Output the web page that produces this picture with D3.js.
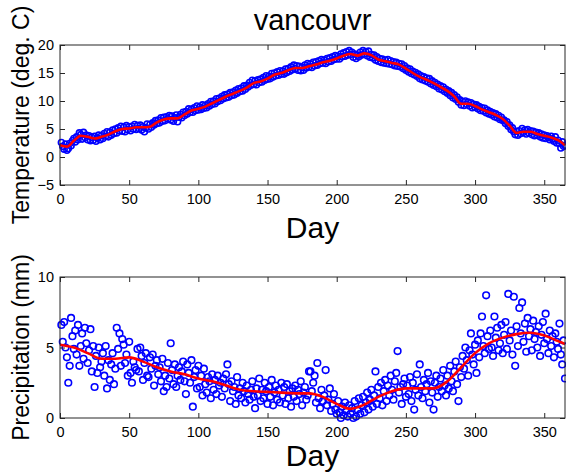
<!DOCTYPE html>
<html>
<head>
<meta charset="utf-8">
<script src="https://cdn.jsdelivr.net/npm/d3@7"></script>
<style>
  html, body { margin: 0; padding: 0; background: #fff; }
  svg { display: block; }
  text { font-family: "Liberation Sans", Arial, Helvetica, sans-serif; fill: #000; }
</style>
</head>
<body>
<svg id="fig" width="566" height="473"></svg>
<script>
// ---- Daily mean temperature (deg. C), days 1..365 ----
const tempDaily = [
  2.6, 1.9, 1.4, 2.3, 1.2, 1.5, 2.4, 2.0, 2.9, 3.3,
  2.7, 3.6, 3.1, 4.3, 4.0, 3.2, 4.4, 3.5, 3.9, 3.1,
  3.8, 2.9, 3.5, 3.0, 3.7, 2.8, 3.4, 3.9, 3.1, 3.8,
  3.3, 4.2, 3.7, 4.5, 3.6, 4.4, 3.9, 4.8, 4.2, 5.0,
  4.3, 5.2, 4.7, 5.5, 4.6, 5.3, 4.5, 5.6, 4.9, 5.4,
  4.7, 5.5, 5.0, 5.8, 4.9, 5.6, 5.1, 5.7, 4.8, 5.4,
  4.5, 5.2, 5.9, 5.0, 5.8, 5.3, 6.1, 5.7, 6.5, 6.0,
  6.6, 6.1, 7.0, 6.4, 7.1, 6.5, 7.2, 6.8, 7.4, 6.6,
  7.3, 6.4, 7.0, 7.5, 6.3, 7.1, 7.6, 7.0, 8.0, 7.4,
  8.1, 7.7, 8.6, 8.0, 8.5, 8.0, 8.8, 8.3, 9.1, 8.4,
  8.9, 8.5, 9.3, 8.7, 9.2, 8.8, 9.5, 9.1, 9.9, 9.4,
  10.0, 9.5, 10.4, 9.9, 10.5, 10.1, 10.8, 10.4, 11.1, 10.6,
  11.2, 10.7, 11.5, 11.0, 11.6, 11.1, 11.9, 11.4, 12.2, 11.7,
  12.3, 11.8, 12.7, 12.1, 12.8, 12.5, 13.3, 12.8, 13.7, 13.0,
  13.6, 12.9, 13.8, 13.3, 13.9, 13.4, 14.2, 13.7, 14.5, 13.9,
  14.4, 14.0, 14.9, 14.3, 15.0, 14.5, 15.2, 14.6, 15.4, 14.8,
  15.3, 14.8, 15.7, 15.1, 15.8, 15.3, 16.1, 15.6, 16.4, 15.8,
  16.3, 15.5, 16.2, 15.4, 16.0, 15.5, 16.4, 15.9, 16.7, 16.1,
  16.6, 16.0, 16.9, 16.3, 17.0, 16.4, 17.2, 16.7, 17.4, 16.8,
  17.3, 16.7, 17.6, 17.0, 17.7, 17.1, 17.9, 17.4, 18.1, 17.5,
  18.0, 17.5, 18.4, 17.9, 18.6, 18.0, 18.8, 18.2, 19.0, 18.3,
  18.7, 17.8, 18.4, 17.6, 18.2, 17.9, 18.7, 18.2, 19.0, 18.4,
  18.8, 18.1, 18.9, 17.8, 18.3, 17.7, 18.2, 17.3, 17.9, 17.1,
  17.6, 16.9, 17.5, 16.8, 17.3, 16.7, 17.4, 16.6, 17.2, 16.5,
  17.0, 16.3, 16.9, 16.2, 16.7, 16.1, 16.6, 15.8, 16.3, 15.5,
  15.9, 15.2, 15.7, 14.9, 15.3, 14.7, 15.1, 14.4, 14.8, 14.0,
  14.5, 13.8, 14.3, 13.6, 14.1, 13.4, 14.0, 13.1, 13.6, 12.8,
  13.3, 12.6, 13.0, 12.2, 12.7, 12.0, 12.5, 11.7, 12.1, 11.4,
  11.8, 11.0, 11.5, 10.6, 11.1, 10.3, 10.7, 9.8, 10.2, 9.3,
  9.9, 9.2, 10.0, 9.4, 9.8, 9.1, 9.7, 8.8, 9.4, 8.9,
  9.3, 8.6, 9.0, 8.3, 8.8, 8.2, 8.7, 7.9, 8.4, 7.7,
  8.1, 7.5, 7.9, 7.2, 7.7, 7.0, 7.4, 6.7, 7.1, 6.5,
  6.6, 6.0, 6.3, 5.5, 5.7, 4.9, 5.2, 4.5, 4.0, 4.6,
  3.9, 4.7, 4.2, 5.1, 4.4, 4.8, 4.1, 4.9, 4.3, 4.7,
  4.0, 4.6, 3.8, 4.4, 3.9, 4.3, 3.6, 4.1, 3.4, 3.9,
  3.3, 3.8, 3.5, 3.1, 3.7, 3.2, 2.8, 3.6, 2.5, 3.0,
  2.4, 1.6, 2.7, 1.9, 2.1
];

// ---- Smoothed temperature, sampled every 5 days (0..365) ----
const tempSmoothDays = d3.range(0, 366, 5);
const tempSmooth = [
  2.1, 1.85, 2.9, 3.8, 3.6, 3.3, 3.6, 4.0, 4.6, 5.0,
  5.1, 5.3, 5.3, 5.4, 6.2, 6.7, 6.9, 6.9, 7.6, 8.3,
  8.6, 9.0, 9.6, 10.2, 10.8, 11.3, 11.8, 12.4, 13.2, 13.5,
  14.0, 14.7, 15.0, 15.5, 15.9, 15.9, 16.2, 16.5, 16.9, 17.2,
  17.6, 18.1, 18.4, 18.1, 18.5, 18.2, 17.4, 17.1, 16.8, 16.5,
  15.8, 15.0, 14.3, 13.8, 13.2, 12.5, 11.8, 10.8, 9.5, 9.5,
  9.1, 8.5, 8.0, 7.5, 6.8, 5.6, 4.3, 4.5, 4.5, 4.1,
  3.8, 3.5, 3.0, 2.1
];

// ---- Daily precipitation (mm), days 1..365 ----
const precipDaily = [
  6.6, 5.4, 6.8, 5.0, 4.3, 2.5, 3.7, 7.1, 5.8, 4.9,
  6.2, 4.5, 6.6, 3.7, 5.1, 6.0, 4.2, 6.4, 5.3, 3.9,
  4.8, 6.3, 3.3, 5.1, 2.2, 4.4, 3.2, 5.0, 3.6, 4.0,
  4.6, 3.0, 5.1, 2.1, 4.1, 2.7, 3.8, 4.6, 2.4, 3.5,
  6.4, 4.9, 6.0, 3.7, 5.6, 5.2, 3.9, 4.5, 3.0, 5.4,
  3.2, 2.5, 4.0, 3.6, 3.4, 4.9, 3.3, 5.0, 4.4, 2.7,
  3.9, 4.6, 3.0, 2.9, 4.3, 3.5, 4.5, 2.3, 3.7, 4.1,
  3.1, 3.6, 2.6, 4.2, 1.9, 3.0, 2.2, 3.9, 2.8, 5.3,
  3.4, 2.4, 3.8, 2.2, 3.0, 3.6, 2.7, 3.3, 4.0, 2.6,
  1.7, 3.8, 3.2, 2.5, 4.1, 0.8, 2.9, 3.4, 2.1, 3.7,
  2.2, 3.0, 1.6, 3.5, 2.4, 1.8, 2.9, 2.6, 1.4, 3.1,
  2.0, 2.7, 1.7, 3.0, 2.3, 2.5, 1.5, 2.8, 2.1, 3.1,
  3.8, 2.4, 1.2, 2.6, 1.9, 2.2, 1.0, 2.9, 1.6, 2.1,
  1.4, 2.5, 1.9, 1.1, 2.3, 1.7, 1.3, 2.0, 2.6, 1.5,
  0.7, 2.1, 1.6, 2.8, 1.2, 2.0, 1.4, 2.5, 1.9, 1.0,
  2.2, 1.5, 2.7, 0.9, 1.8, 2.3, 1.3, 2.0, 1.1, 2.5,
  1.6, 2.2, 1.0, 2.4, 1.4, 1.9, 0.8, 2.1, 1.5, 2.3,
  1.2, 2.0, 1.7, 2.6, 0.9, 1.8, 2.2, 1.3, 1.6, 3.3,
  3.3, 1.9, 2.5, 3.0, 1.1, 3.9, 1.4, 0.7, 2.0, 1.2,
  1.6, 3.4, 0.9, 1.3, 2.1, 0.5, 1.0, 1.7, 0.6, 0.3,
  1.2, 0.4, 0.0, 0.8, 0.2, 1.1, 0.5, 0.1, 0.9, 0.3,
  0.7, 0.0, 1.2, 0.1, 0.6, 1.4, 0.3, 0.9, 1.5, 0.4,
  1.1, 1.8, 0.6, 1.3, 2.0, 0.8, 1.6, 3.3, 1.0, 2.2,
  1.4, 2.5, 0.9, 1.9, 2.7, 1.2, 2.3, 1.6, 3.0, 2.0,
  1.3, 2.6, 3.2, 4.75, 1.8, 2.2, 1.0, 2.4, 2.8, 1.5,
  2.3, 1.7, 2.9, 1.2, 2.5, 0.6, 2.0, 3.1, 1.6, 3.8,
  2.2, 1.4, 2.7, 1.9, 2.4, 3.2, 1.1, 2.6, 1.8, 0.6,
  2.5, 3.0, 1.5, 2.2, 2.8, 1.9, 3.4, 2.3, 1.6, 3.0,
  2.1, 3.7, 2.6, 1.9, 3.3, 4.0, 2.4, 1.2, 3.6, 2.9,
  4.4, 3.5, 5.0, 4.1, 3.0, 4.8, 6.0, 4.5, 3.8, 5.2,
  3.2, 5.5, 4.3, 6.0, 7.2, 5.1, 4.6, 8.7, 5.8, 4.9,
  6.2, 5.0, 4.4, 7.2, 5.7, 6.4, 4.8, 5.3, 6.6, 4.6,
  5.9, 6.8, 4.9, 8.8, 5.5, 6.2, 4.5, 8.6, 3.7, 6.5,
  5.1, 7.8, 6.0, 8.2, 5.4, 6.7, 4.7, 7.1, 5.8, 6.3,
  4.8, 6.9, 5.6, 6.1, 5.0, 6.5, 4.4, 5.9, 6.8, 5.3,
  7.4, 5.6, 4.6, 6.2, 5.1, 5.8, 4.3, 6.0, 5.4, 4.9,
  6.7, 4.5, 3.8, 5.5, 2.8
];

// ---- Smoothed precipitation ----
const precipSmoothDays = [
  0, 10, 20, 30, 40, 50, 60, 70, 80, 90, 100, 110, 120, 130, 140, 150, 160, 170, 180,
  190, 200, 210, 220, 230, 240, 250, 260, 270, 280, 290, 300, 310, 320, 330, 340, 350, 360, 365
];
const precipSmooth = [
  5.2, 5.0, 4.6, 4.2, 4.2, 4.3, 4.0, 3.6, 3.3, 3.1, 2.8, 2.6, 2.3, 2.0, 1.9, 1.85, 1.8, 1.75, 1.75,
  1.5, 1.0, 0.65, 0.95, 1.5, 1.9, 2.1, 2.1, 2.1, 2.6, 3.6, 4.6, 5.3, 5.7, 5.95, 6.05, 5.85, 5.45, 5.25
];

const xTicks = [0, 50, 100, 150, 200, 250, 300, 350];
const tempTicks = [-5, 0, 5, 10, 15, 20];
const precipTicks = [0, 5, 10];

const titleText = "vancouvr";
const xLabel = "Day";
const tempLabel = "Temperature (deg. C)";
const precipLabel = "Precipitation (mm)";

// ---- Drawing ----
const svg = d3.select("#fig");
const axisColor = "#262626";
const left = 60, right = 565;

function panel(cfg) {
  const x = d3.scaleLinear().domain([0, 365]).range([left, right]);
  const y = d3.scaleLinear().domain(cfg.yDomain).range([cfg.bottom, cfg.top]);
  const g = svg.append("g");

  // data markers (open circles)
  g.append("g")
    .selectAll("circle")
    .data(cfg.points)
    .join("circle")
    .attr("cx", (d, i) => x(i + 1))
    .attr("cy", d => y(d))
    .attr("r", cfg.markerR)
    .attr("fill", "none")
    .attr("stroke", "#0000ff")
    .attr("stroke-width", 1.6);

  // smoothed curve
  const line = d3.line()
    .x(d => x(d[0]))
    .y(d => y(d[1]))
    .curve(d3.curveMonotoneX);
  g.append("path")
    .datum(cfg.smoothDays.map((d, i) => [d, cfg.smooth[i]]))
    .attr("d", line)
    .attr("fill", "none")
    .attr("stroke", "#ff0000")
    .attr("stroke-width", 2.6);

  // box
  g.append("rect")
    .attr("x", left).attr("y", cfg.top)
    .attr("width", right - left).attr("height", cfg.bottom - cfg.top)
    .attr("fill", "none").attr("stroke", axisColor).attr("stroke-width", 1);

  const styleAxis = sel => {
    sel.select(".domain").remove();
    sel.selectAll("line").attr("stroke", axisColor);
    sel.selectAll("text")
      .style("font-family", "'Liberation Sans', Arial, sans-serif")
      .style("font-size", "14.5px")
      .attr("fill", "#000");
  };

  g.append("g").attr("transform", `translate(0,${cfg.bottom})`)
    .call(d3.axisBottom(x).tickValues(xTicks).tickSize(-5).tickPadding(9))
    .call(styleAxis);
  g.append("g").attr("transform", `translate(0,${cfg.top})`)
    .call(d3.axisTop(x).tickValues(xTicks).tickSize(-5).tickFormat(""))
    .call(styleAxis);
  g.append("g").attr("transform", `translate(${left},0)`)
    .call(d3.axisLeft(y).tickValues(cfg.yTicks).tickSize(-5).tickPadding(6))
    .call(styleAxis);
  g.append("g").attr("transform", `translate(${right},0)`)
    .call(d3.axisRight(y).tickValues(cfg.yTicks).tickSize(-5).tickFormat(""))
    .call(styleAxis);

  // axis labels
  g.append("text")
    .attr("x", (left + right) / 2)
    .attr("y", cfg.xLabelY)
    .attr("text-anchor", "middle")
    .style("font-size", "30px")
    .text(xLabel);
  g.append("text")
    .attr("transform", `translate(29,${(cfg.top + cfg.bottom) / 2}) rotate(-90)`)
    .attr("text-anchor", "middle")
    .style("font-size", "23px")
    .text(cfg.yLabel);
}

panel({
  top: 45, bottom: 185, yDomain: [-5, 20], yTicks: tempTicks, markerR: 3,
  points: tempDaily, smoothDays: tempSmoothDays, smooth: tempSmooth,
  yLabel: tempLabel, xLabelY: 238
});
panel({
  top: 277, bottom: 418, yDomain: [0, 10], yTicks: precipTicks, markerR: 3.3,
  points: precipDaily, smoothDays: precipSmoothDays, smooth: precipSmooth,
  yLabel: precipLabel, xLabelY: 466
});

svg.append("text")
  .attr("x", (left + right) / 2)
  .attr("y", 30)
  .attr("text-anchor", "middle")
  .style("font-size", "29px")
  .text(titleText);
</script>
</body>
</html>
